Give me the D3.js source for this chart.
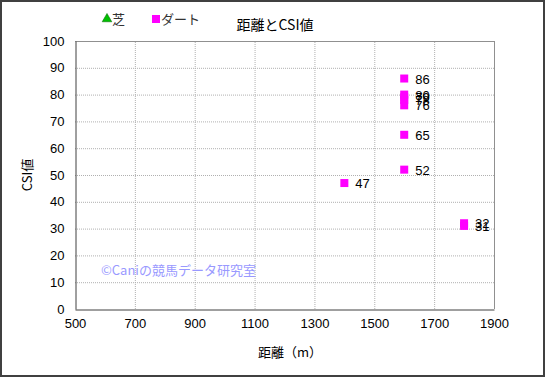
<!DOCTYPE html>
<html>
<head>
<meta charset="utf-8">
<script src="https://cdn.jsdelivr.net/npm/d3@7"></script>
<style>
  body { margin: 0; background: #fff; }
  text { font-family: "Liberation Sans", "Noto Sans CJK JP", sans-serif; }
  .jp { font-family: "Noto Sans CJK JP", sans-serif; }
</style>
</head>
<body>
<svg id="chart" width="545" height="377"></svg>
<script>
// distance (m) and CSI value for each race, dirt only (no turf points)
var dirtDistance = [1600, 1600, 1600, 1600, 1600, 1600, 1600, 1400, 1800, 1800];
var dirtCsi      = [86,   80,   79,   78,   76,   65,   52,   47,   32,   31];
var turfDistance = [];
var turfCsi      = [];

var xTicks = [500, 700, 900, 1100, 1300, 1500, 1700, 1900];
var yTicks = [0, 10, 20, 30, 40, 50, 60, 70, 80, 90, 100];

var svg = d3.select('#chart');

// outer frame
svg.append('rect')
  .attr('x', 1).attr('y', 1).attr('width', 543).attr('height', 375)
  .attr('fill', '#fff').attr('stroke', '#404040').attr('stroke-width', 2);

var x = d3.scaleLinear().domain([500, 1900]).range([75, 494]);
var y = d3.scaleLinear().domain([0, 100]).range([309, 41]);

var plot = svg.append('g');

// grid
plot.selectAll('line.hgrid')
  .data(yTicks.slice(1, -1))
  .enter().append('line')
  .attr('x1', x(500)).attr('x2', x(1900))
  .attr('y1', function(d) { return y(d) + 0.5; })
  .attr('y2', function(d) { return y(d) + 0.5; })
  .attr('stroke', '#b0b0b0').attr('stroke-dasharray', '1,1');
plot.selectAll('line.vgrid')
  .data(xTicks.slice(1, -1))
  .enter().append('line')
  .attr('y1', y(0)).attr('y2', y(100))
  .attr('x1', function(d) { return x(d) + 0.5; })
  .attr('x2', function(d) { return x(d) + 0.5; })
  .attr('stroke', '#b0b0b0').attr('stroke-dasharray', '1,1');

// plot border: top and right light, left and bottom dark
plot.append('line').attr('x1', x(500)).attr('x2', x(1900)).attr('y1', y(100) + 0.5).attr('y2', y(100) + 0.5)
  .attr('stroke', '#909090');
plot.append('line').attr('x1', x(1900) + 0.5).attr('x2', x(1900) + 0.5).attr('y1', y(100)).attr('y2', y(0))
  .attr('stroke', '#909090');

// axes
var xAxis = d3.axisBottom(x).tickValues(xTicks).tickFormat(d3.format('d')).tickSize(0).tickPadding(9);
var yAxis = d3.axisLeft(y).tickValues(yTicks).tickFormat(d3.format('d')).tickSize(0).tickPadding(11);

var gx = svg.append('g').attr('transform', 'translate(0,' + (y(0) + 0.5) + ')').call(xAxis);
var gy = svg.append('g').attr('transform', 'translate(' + (x(500) + 0.5) + ',0)').call(yAxis);
[gx, gy].forEach(function(g) {
  g.select('.domain').attr('stroke', '#404040');
  g.selectAll('text').attr('font-size', 13).attr('fill', '#000')
    .attr('font-family', '"Liberation Sans", sans-serif');
});

// axis titles
svg.append('text').attr('class', 'jp')
  .attr('x', 290).attr('y', 357).attr('text-anchor', 'middle')
  .attr('font-size', 13).text('距離（m）');
svg.append('text').attr('class', 'jp')
  .attr('transform', 'translate(32,175) rotate(-90)').attr('text-anchor', 'middle')
  .attr('font-size', 13).text('CSI値');

// title
svg.append('text').attr('class', 'jp')
  .attr('x', 275).attr('y', 30).attr('text-anchor', 'middle')
  .attr('font-size', 14).text('距離とCSI値');

// legend
svg.append('path')
  .attr('d', d3.symbol(d3.symbolTriangle, 40)())
  .attr('transform', 'translate(107,19)')
  .attr('fill', '#00c000').attr('stroke', '#006000').attr('stroke-width', 0.5);
svg.append('text').attr('class', 'jp').attr('x', 112).attr('y', 24)
  .attr('font-size', 13).attr('fill', '#333').text('芝');
svg.append('rect').attr('x', 152).attr('y', 15).attr('width', 8).attr('height', 8)
  .attr('fill', '#ff00ff');
svg.append('text').attr('class', 'jp').attr('x', 161).attr('y', 24)
  .attr('font-size', 13).attr('fill', '#333').text('ダート');

// watermark
svg.append('text').attr('class', 'jp')
  .attr('x', 101).attr('y', 275)
  .attr('font-size', 13).attr('fill', '#9999ff').text('©Caniの競馬データ研究室');

// dirt points
var pts = dirtDistance.map(function(d, i) { return { dist: d, csi: dirtCsi[i] }; });
var marks = plot.selectAll('g.pt').data(pts).enter().append('g');
marks.append('rect')
  .attr('x', function(d) { return x(d.dist) - 4; })
  .attr('y', function(d) { return y(d.csi) - 4; })
  .attr('width', 8).attr('height', 8)
  .attr('fill', '#ff00ff');
marks.append('text')
  .attr('x', function(d) { return x(d.dist) + 11; })
  .attr('y', function(d) { return y(d.csi) + 5; })
  .attr('font-size', 13).attr('fill', '#000')
  .text(function(d) { return d.csi; });

// turf points (none in this chart)
plot.selectAll('path.turf').data(turfDistance).enter().append('path')
  .attr('d', d3.symbol(d3.symbolTriangle, 40)())
  .attr('transform', function(d, i) { return 'translate(' + x(d) + ',' + y(turfCsi[i]) + ')'; })
  .attr('fill', '#00c000');
</script>
</body>
</html>
